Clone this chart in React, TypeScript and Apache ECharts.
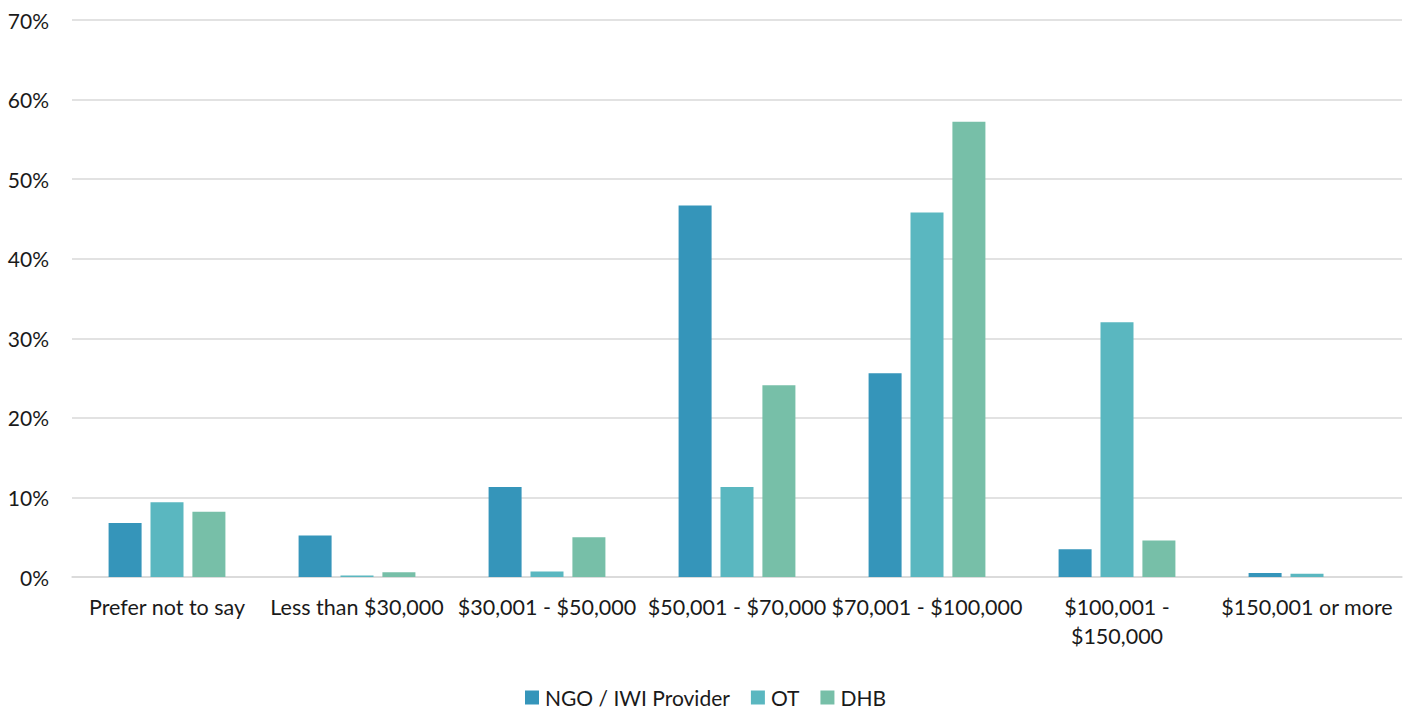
import React, { useEffect, useRef } from "react";
import * as echarts from "echarts";

const categories = [
  "Prefer not to say",
  "Less than $30,000",
  "$30,001 - $50,000",
  "$50,001 - $70,000",
  "$70,001 - $100,000",
  "$100,001 -\n$150,000",
  "$150,001 or more",
];

const ngoValues = [6.8, 5.2, 11.3, 46.7, 25.6, 3.5, 0.5];
const otValues = [9.4, 0.2, 0.7, 11.3, 45.8, 32.0, 0.4];
const dhbValues = [8.2, 0.6, 5.0, 24.1, 57.2, 4.6, 0];

const seriesNames = ["NGO / IWI Provider", "OT", "DHB"];
const colors = ["#3595ba", "#5ab7c0", "#77bfa8"];

const FONT = "Lato, 'Noto Sans', sans-serif";

export default function App() {
  const ref = useRef<HTMLDivElement>(null);

  useEffect(() => {
    if (!ref.current) return;
    const chart = echarts.init(ref.current, undefined, { renderer: "svg" });
    const data = [ngoValues, otValues, dhbValues];
    chart.setOption({
      animation: false,
      color: colors,
      textStyle: { fontFamily: FONT },
      grid: { left: 72, right: 9, top: 20, bottom: 134, containLabel: false },
      legend: {
        bottom: -2,
        left: "center",
        itemWidth: 14,
        itemHeight: 14,
        itemGap: 21,
        icon: "rect",
        textStyle: { fontFamily: FONT, fontSize: 21, color: "#1a1a1a", padding: [0, 0, 0, 1] },
        data: seriesNames,
      },
      xAxis: {
        type: "category",
        data: categories,
        axisTick: { show: false },
        axisLine: { show: true, lineStyle: { color: "#d9d9d9", width: 1.5 } },
        axisLabel: {
          color: "#1a1a1a",
          fontFamily: FONT,
          fontSize: 21.5,
          margin: 15,
          lineHeight: 29,
          interval: 0,
        },
      },
      yAxis: {
        type: "value",
        min: 0,
        max: 70,
        interval: 10,
        axisLine: { show: false },
        axisTick: { show: false },
        splitLine: { lineStyle: { color: "#d9d9d9", width: 1.5 } },
        axisLabel: {
          color: "#1a1a1a",
          fontFamily: FONT,
          fontSize: 21,
          margin: 23,
          formatter: (v: number) => `${v}%`,
        },
      },
      series: seriesNames.map((name, i) => ({
        name,
        type: "bar",
        data: data[i],
        barWidth: 33,
        barGap: "27%",
        itemStyle: { color: colors[i] },
      })),
    });
    return () => chart.dispose();
  }, []);

  return (
    <div
      ref={ref}
      style={{ position: "absolute", left: 0, top: 0, width: 1411, height: 711, background: "#fff" }}
    />
  );
}
